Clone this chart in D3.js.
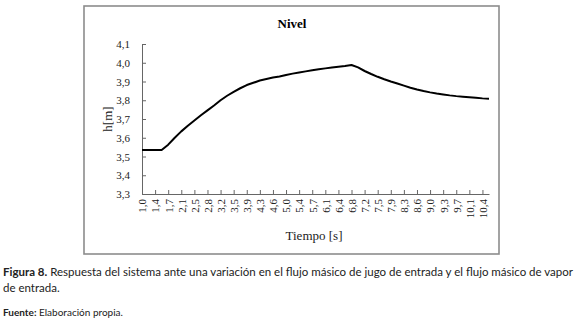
<!DOCTYPE html>
<html>
<head>
<meta charset="utf-8">
<script src="https://cdn.jsdelivr.net/npm/d3@7"></script>
<style>
  body { margin: 0; background: #fff; }
  svg { display: block; }
</style>
</head>
<body>
<div id="container"></div>
<script>
/* CONSTANTS AND GLOBALS */
const width = 580,
    height = 326,
    margin = { top: 44, bottom: 132, left: 142, right: 93 };

// tick labels on the time axis (one every second sample)
const tiempoLabels = ["1,0", "1,4", "1,7", "2,1", "2,5", "2,8", "3,2", "3,5", "3,9", "4,3",
    "4,6", "5,0", "5,4", "5,7", "6,1", "6,4", "6,8", "7,2", "7,5", "7,9",
    "8,3", "8,6", "9,0", "9,3", "9,7", "10,1", "10,4"];

// level h [m], one value per sample (half a label step apart)
const nivel = [3.535, 3.535, 3.535, 3.535, 3.563, 3.600, 3.634, 3.664, 3.692, 3.720,
    3.746, 3.772, 3.800, 3.824, 3.845, 3.864, 3.881, 3.893, 3.905, 3.913,
    3.921, 3.927, 3.935, 3.942, 3.948, 3.954, 3.960, 3.965, 3.970, 3.975,
    3.979, 3.983, 3.988, 3.975, 3.956, 3.940, 3.925, 3.912, 3.900, 3.889,
    3.878, 3.867, 3.857, 3.849, 3.842, 3.836, 3.831, 3.826, 3.822, 3.819,
    3.816, 3.813, 3.810, 3.808];

const yTicks = [3.3, 3.4, 3.5, 3.6, 3.7, 3.8, 3.9, 4.0, 4.1];

const fmt = v => v.toFixed(1).replace(".", ",");

//SCALES
const xScale = d3.scaleLinear()
    .domain([0, nivel.length - 1])
    .range([margin.left, width - margin.right + 2])

const yScale = d3.scaleLinear()
    .domain([3.3, 4.1])
    .range([height - margin.bottom, margin.top])

//CREATE SVG
const svg = d3.select("#container")
    .append("svg")
    .attr("width", width)
    .attr("height", height)

// outer frame of the figure
svg.append("rect")
    .attr("x", 84)
    .attr("y", 6)
    .attr("width", 415)
    .attr("height", 248)
    .attr("fill", "none")
    .attr("stroke", "#8c8c8c")
    .attr("stroke-width", 1.6)

//TITLE
svg.append("text")
    .attr("x", 292)
    .attr("y", 28)
    .attr("text-anchor", "middle")
    .style("font-family", "Liberation Serif, serif")
    .style("font-weight", "bold")
    .style("font-size", "13px")
    .text("Nivel")

//X AXIS (category style, labels on every second sample)
const xAxis = d3.axisBottom(xScale)
    .tickValues(tiempoLabels.map((d, i) => i * 2))
    .tickFormat((d, i) => tiempoLabels[i])
    .tickSizeInner(-4)
    .tickSizeOuter(0)
    .tickPadding(5)

const gx = svg.append("g")
    .attr("class", "axis")
    .attr("transform", `translate(0,${height - margin.bottom})`)
    .call(xAxis)

gx.selectAll("text")
    .attr("transform", "rotate(-90)")
    .attr("x", -5)
    .attr("y", 0)
    .attr("dy", "0.35em")
    .style("text-anchor", "end")

//Y AXIS
const yAxis = d3.axisLeft(yScale)
    .tickValues(yTicks)
    .tickFormat(fmt)
    .tickSizeInner(-4)
    .tickSizeOuter(0)
    .tickPadding(12)

svg.append("g")
    .attr("class", "axis")
    .attr("transform", `translate(${margin.left},0)`)
    .call(yAxis)

svg.selectAll(".axis path, .axis line")
    .attr("stroke", "#666")

svg.selectAll(".axis text")
    .style("font-family", "Liberation Serif, serif")
    .style("font-size", "11px")
    .attr("fill", "#222")

//LINE
const line = d3.line()
    .x((d, i) => xScale(i))
    .y(d => yScale(d))

svg.append("path")
    .datum(nivel)
    .attr("d", line)
    .attr("fill", "none")
    .attr("stroke", "#000")
    .attr("stroke-width", 2)
    .attr("stroke-linejoin", "round")

//AXIS LABELS
svg.append("text")
    .attr("x", 314)
    .attr("y", 240)
    .attr("text-anchor", "middle")
    .style("font-family", "Liberation Serif, serif")
    .style("font-weight", "normal")
    .style("font-size", "13px")
    .attr("fill", "#222")
    .text("Tiempo [s]")

svg.append("text")
    .attr("transform", `translate(112,${yScale(3.7)}) rotate(-90)`)
    .attr("text-anchor", "middle")
    .style("font-family", "Liberation Serif, serif")
    .style("font-size", "13px")
    .attr("fill", "#222")
    .text("h[m]")

//CAPTION
const cap = svg.append("text")
    .attr("x", 3)
    .attr("y", 276)
    .attr("textLength", 570)
    .attr("lengthAdjust", "spacingAndGlyphs")
    .style("font-family", "Lato, sans-serif")
    .style("font-size", "11.5px")
    .attr("fill", "#222")
cap.append("tspan").style("font-weight", "bold").text("Figura 8.")
cap.append("tspan").text(" Respuesta del sistema ante una variación en el flujo másico de jugo de entrada y el flujo másico de vapor")

svg.append("text")
    .attr("x", 3)
    .attr("y", 292)
    .style("font-family", "Lato, sans-serif")
    .style("font-size", "11.5px")
    .attr("fill", "#222")
    .text("de entrada.")

const src = svg.append("text")
    .attr("x", 3)
    .attr("y", 316)
    .style("font-family", "Lato, sans-serif")
    .style("font-size", "10px")
    .attr("fill", "#222")
src.append("tspan").style("font-weight", "bold").text("Fuente:")
src.append("tspan").text(" Elaboración propia.")
</script>
</body>
</html>
